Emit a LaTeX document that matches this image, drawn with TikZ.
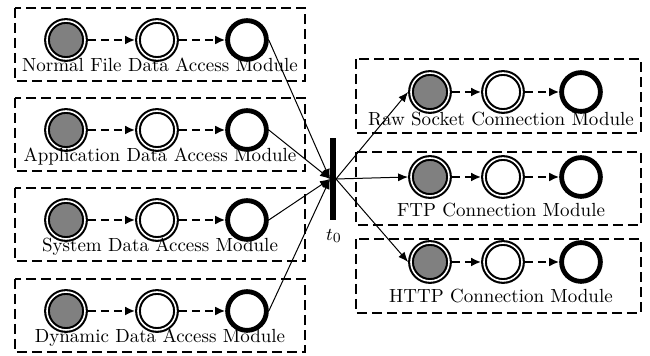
\documentclass[tikz,border=0pt]{standalone}
\usetikzlibrary{arrows.meta}
\definecolor{stategray}{RGB}{128,128,128}
\begin{document}
\begin{tikzpicture}[x=0.5pt,y=-0.5pt,
  every node/.style={font=\fontsize{9.5}{11}\selectfont},
  initstate/.style={circle, draw, double, line width=1.05pt, double distance=0.8pt,
    fill=stategray, minimum size=19pt, inner sep=0pt, outer sep=1.45pt},
  accstate/.style={initstate, fill=white},
  endstate/.style={circle, draw, line width=2.4pt, fill=white, minimum size=19.4pt,
    inner sep=0pt, outer sep=1.2pt},
  flow/.style={-{Latex[length=5pt,width=4.5pt]}, line width=1.3pt, dash pattern=on 4pt off 2.5pt},
  modbox/.style={draw, line width=1.4pt, dash pattern=on 5pt off 2.5pt},
  link/.style={-{Latex[length=5pt,width=4pt]}, line width=0.5pt},
  transbar/.style={fill=black, minimum width=3pt, minimum height=41pt, inner sep=0pt, outer sep=0pt}
]
\useasboundingbox (0,0) rectangle (650,356);

% data access modules (left column)
\foreach \i/\top/\name in {1/8/Normal File Data Access Module,
                           2/98/Application Data Access Module,
                           3/188/System Data Access Module,
                           4/279/Dynamic Data Access Module}{
  \draw[modbox] (15,\top) rectangle (305,\top+73);
  \node[initstate] (a\i s) at (66,\top+32) {};
  \node[accstate]  (a\i m) at (157,\top+32) {};
  \node[endstate]  (a\i e) at (247,\top+32) {};
  \node[anchor=base] (a\i t) at (160,\top+64) {\name};
  \draw[flow] (a\i s) -- (a\i m);
  \draw[flow] (a\i m) -- (a\i e);
}

% connection modules (right column)
\foreach \i/\top/\bot/\cy/\ty/\name in {1/59/133/92/126/Raw Socket Connection Module,
                                       2/152/225/177/217/FTP Connection Module,
                                       3/239/313/262/303/HTTP Connection Module}{
  \draw[modbox] (356,\top) rectangle (641,\bot);
  \node[initstate] (c\i s) at (430,\cy) {};
  \node[accstate]  (c\i m) at (503,\cy) {};
  \node[endstate]  (c\i e) at (581,\cy) {};
  \node[anchor=base] (c\i t) at (501,\ty) {\name};
  \draw[flow] (c\i s) -- (c\i m);
  \draw[flow] (c\i m) -- (c\i e);
}

% transition t0
\node[transbar] (t0) at (333,179) {};
\node (t0lab) at (334,236) {$t_0$};

\foreach \i in {1,...,4}{
  \draw[link] (a\i e.east) -- (t0.west);
}
\foreach \i in {1,2,3}{
  \draw[link] (t0.east) -- (c\i s.west);
}
\end{tikzpicture}
\end{document}
